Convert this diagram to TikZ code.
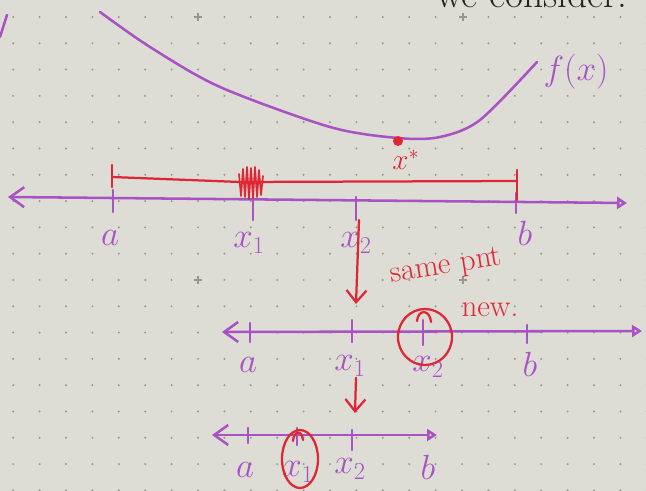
\documentclass[tikz,border=0pt]{standalone}
\usepackage{xcolor}
\usepackage{tikz}
\usetikzlibrary{arrows.meta,positioning}
\definecolor{paper}{RGB}{221,221,213}
\definecolor{gridgray}{RGB}{150,150,143}
\definecolor{penpurple}{RGB}{168,82,196}
\definecolor{penred}{RGB}{222,38,52}
\definecolor{penblack}{RGB}{35,35,35}
\tikzset{
  numline/.style={
    draw=penpurple,
    line width=1.8pt,
    line cap=round,
    {Straight Barb[length=3.5mm,width=5mm]}-{Triangle[open,length=2.5mm,width=3mm]}
  },
  tickmark/.style={
    draw=penpurple,
    line width=1.8pt,
    line cap=round
  },
  ptlabel/.style={
    text=penpurple,
    inner sep=1pt,
    font=\fontsize{24}{26}\selectfont
  },
  redpen/.style={
    draw=penred,
    line width=1.6pt,
    line cap=round,
    line join=round
  },
  redarrow/.style={
    redpen,
    -{Straight Barb[length=3mm,width=5mm]}
  },
  redlabel/.style={
    text=penred,
    inner sep=1pt,
    font=\fontsize{22}{24}\selectfont
  }
}

\begin{document}
\begin{tikzpicture}[x=0.025cm, y=-0.025cm]
\useasboundingbox (0,0) rectangle (646,491);
\fill[paper] (0,0) rectangle (646,491);
\clip (0,0) rectangle (646,491);
\foreach \i in {0,...,24}
  \foreach \j in {0,...,18}
    \fill[gridgray] ({13.2+26.4*\i},{17+26.3*\j}) circle[radius=1.1];
\foreach \px in {198,463}
  \foreach \py in {17,280}
    \draw[gridgray, line width=0.8pt] (\px-4,\py) -- (\px+4,\py) (\px,\py-4) -- (\px,\py+4);

\node[anchor=base, text=penblack, font=\fontsize{28}{30}\selectfont] (note) at (532,8) {we consider.};
\draw[penpurple, line width=1.8pt, line cap=round] (7,15) -- (0,37);

\draw[penpurple, line width=1.8pt, line cap=round] plot[smooth] coordinates {(100,12) (150,47) (220,87) (330,127) (398,138) (440,137) (480,120) (537,62)};
\node[ptlabel, font=\fontsize{28}{30}\selectfont] (fx) at (576,72) {$f(x)$};
\fill[penred] (398,141) circle[radius=5];
\node[redlabel, font=\fontsize{20}{22}\selectfont] (xstar) at (406,160) {$x^*$};

\coordinate (oneL) at (8,197);
\coordinate (oneR) at (627,203);
\draw[numline] (oneL) -- (oneR);
\foreach \nm/\xx/\ya/\yb in {a/113/190/212, xa/253/200/220, xb/356/197/220, b/516/193/213}
  \draw[tickmark] (\xx,\ya) -- (\xx,\yb) coordinate (one\nm);
\node[ptlabel] (oneaL) at (110,238) {$a$};
\node[ptlabel] (onexaL) at (249,243) {$x_1$};
\node[ptlabel] (onexbL) at (356,243) {$x_2$};
\node[ptlabel] (onebL) at (525,233) {$b$};

\draw[redpen] (112,165) -- (112,187);
\draw[redpen] (112,177) -- (240,182) -- (517,181);
\draw[redpen] (517,170) -- (517,200);
\draw[redpen, line width=1.2pt] (239,174) -- (241,196) -- (243,169) -- (245,197) -- (247,167) -- (249,199) -- (251,168) -- (253,198) -- (255,167) -- (257,197) -- (259,170) -- (261,195) -- (263,176);

\coordinate (twoL) at (222,332);
\coordinate (twoR) at (642,331);
\draw[numline] (twoL) -- (twoR);
\foreach \nm/\xx/\ya/\yb in {a/250/323/342, xa/352/320/342, xb/423/320/345, b/527/325/343}
  \draw[tickmark] (\xx,\ya) -- (\xx,\yb) coordinate (two\nm);
\node[ptlabel] (twoaL) at (248,365) {$a$};
\node[ptlabel] (twoxaL) at (350,366) {$x_1$};
\node[ptlabel] (twoxbL) at (428,367) {$x_2$};
\node[ptlabel] (twobL) at (530,364) {$b$};
\draw[redpen] (417,321) .. controls (418,309) and (430,309) .. (431,322);
\draw[redpen] (425,337) ellipse[x radius=27, y radius=28];
\node[redlabel] (newpt) at (490,310) {new.};

\coordinate (arrAtop) at (359,220);
\coordinate (arrAbot) at (356,304);
\draw[redarrow] (arrAtop) -- (arrAbot);
\node[redlabel, rotate=9] (samept) at (446,267) {same pnt};

\coordinate (threeL) at (212,435);
\coordinate (threeR) at (437,435);
\draw[numline] (threeL) -- (threeR);
\foreach \nm/\xx/\ya/\yb in {a/248/428/443, xa/297/428/445, xb/352/430/450}
  \draw[tickmark] (\xx,\ya) -- (\xx,\yb) coordinate (three\nm);
\node[ptlabel] (threeaL) at (245,470) {$a$};
\node[ptlabel] (threexaL) at (298,472) {$x_1$};
\node[ptlabel] (threexbL) at (350,469) {$x_2$};
\node[ptlabel] (threebL) at (428,467) {$b$};
\draw[redpen] (293,441) .. controls (294,430) and (302,430) .. (303,440);
\draw[redpen] (300,459) ellipse[x radius=18, y radius=29];

\draw[redarrow] (twoxaL.south -| 356,0) -- (355,413);
\end{tikzpicture}
\end{document}
